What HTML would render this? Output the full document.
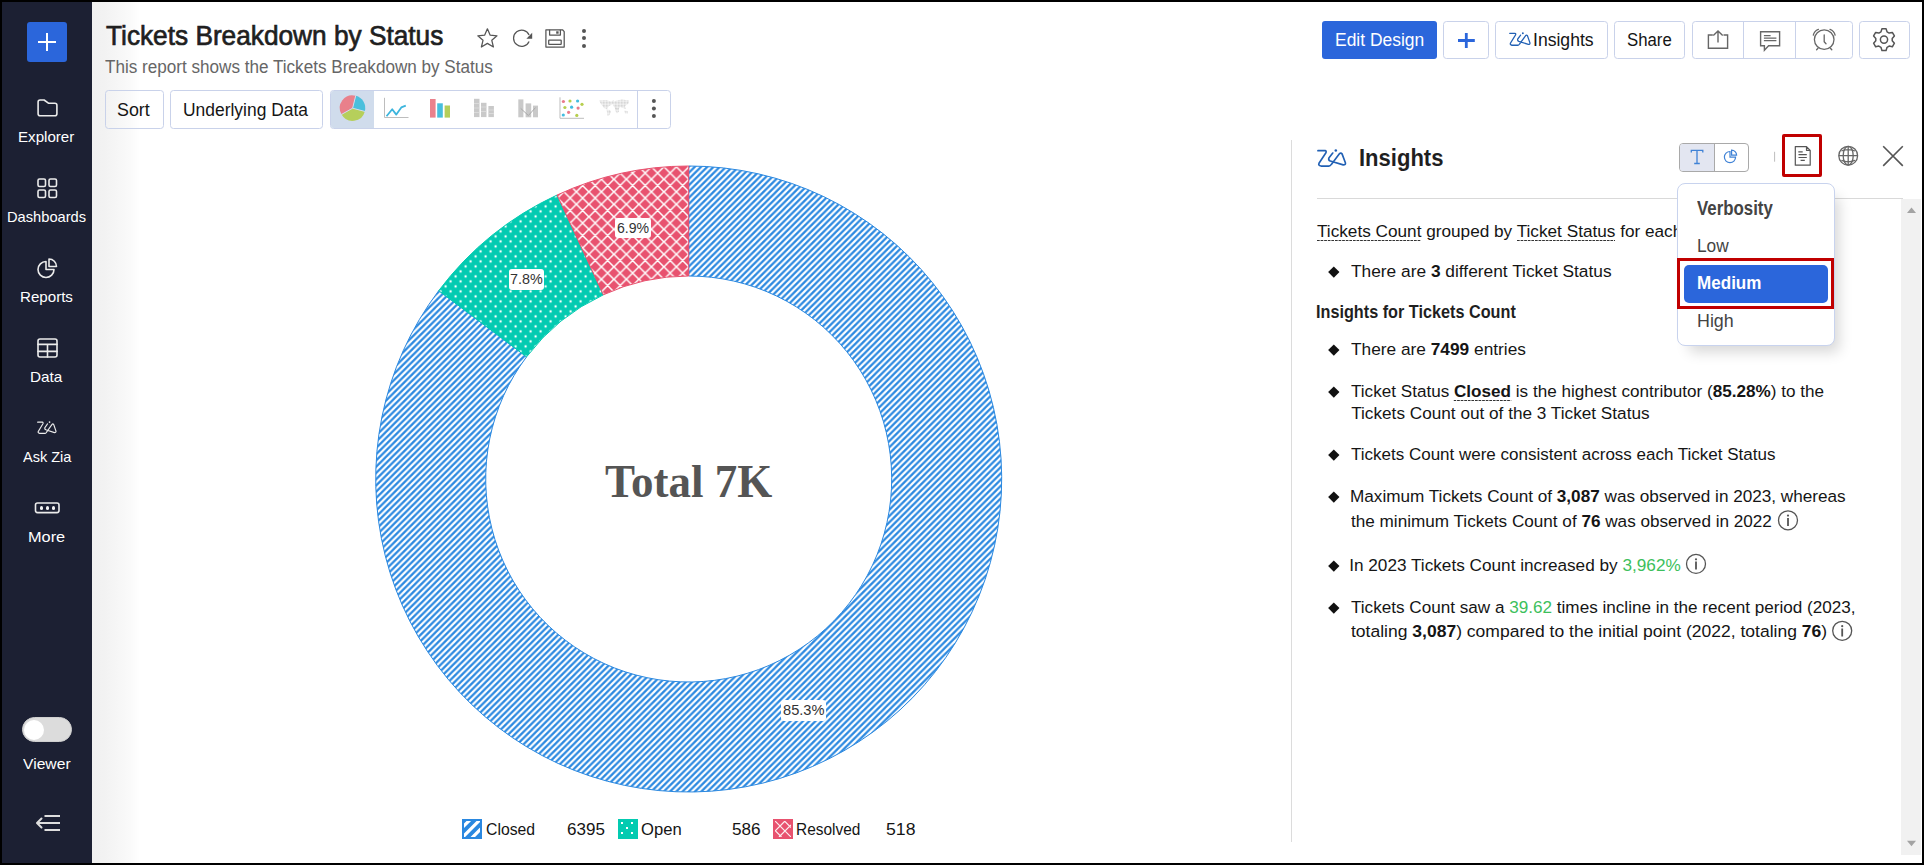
<!DOCTYPE html>
<html><head><meta charset="utf-8">
<style>
*{margin:0;padding:0;box-sizing:border-box}
html,body{width:1924px;height:865px;overflow:hidden;background:#000}
body{font-family:"Liberation Sans",sans-serif;position:relative;color:#222}
.a{position:absolute}
#bg{position:absolute;left:2px;top:2px;width:1920px;height:861px;background:#fff}
#side{position:absolute;left:2px;top:2px;width:90px;height:861px;background:#1c2033}
#grad{position:absolute;left:92px;top:2px;width:60px;height:861px;background:linear-gradient(90deg,#f1f1f1 0,#f2f2f2 12px,#f6f6f6 25px,#fafafa 38px,#fff 48px)}
.bx{position:absolute;border:1px solid #c9d2ea;border-radius:3.5px;background:transparent}
.tx{position:absolute;white-space:nowrap;transform-origin:0 0}
.tx b{font-weight:bold}
.du{background:linear-gradient(90deg,#333 68%,transparent 68%) repeat-x 0 100%/3.6px 1.2px;padding-bottom:0}
.g{color:#3dbf5c}
svg{position:absolute;overflow:visible}
</style></head><body>
<div id="bg"></div>
<div id="side"></div>
<div id="grad"></div>

<svg style="left:0;top:0;width:0;height:0"><defs><symbol id="zia" viewBox="2.2 3.6 31.6 18.8" preserveAspectRatio="none"><path d="M3.2 5.35 H10.7 Q12.4 5.5 11.6 7.5 L4.3 18.5 Q3.2 20.8 6.4 21.4 H14.7 Q16.2 21.4 17.3 19.7 L26 8.4 Q27.2 7.2 28.6 8.7 L32.1 17.9 Q32.7 20.2 29.8 20.2 L16.2 16.2 Q13.9 15.3 14.7 13 L18.8 7.8" fill="none" stroke="currentColor" stroke-width="1.75" stroke-linecap="round" stroke-linejoin="round"/><circle cx="22" cy="5.2" r="1.35" fill="currentColor"/></symbol></defs></svg>
<!-- ===== sidebar ===== -->
<div class="a" style="left:27px;top:22px;width:40px;height:40px;background:#2b66db;border-radius:3px"></div>
<div class="a" style="left:38px;top:41px;width:18px;height:2px;background:#fff"></div>
<div class="a" style="left:46px;top:33px;width:2px;height:18px;background:#fff"></div>
<svg style="left:0;top:0" width="92" height="865" fill="none" stroke="#ebebeb" stroke-width="1.6" stroke-linecap="round" stroke-linejoin="round">
  <!-- folder -->
  <path d="M38.1 102 a2 2 0 0 1 2-2 h4 l4.3 3.2 h6.5 a2 2 0 0 1 2 2 v8.5 a2 2 0 0 1 -2 2 h-14.8 a2 2 0 0 1 -2-2 z"/>
  <!-- dashboards -->
  <rect x="38" y="179" width="7.5" height="7.5" rx="1.5"/><rect x="49" y="179" width="7.5" height="7.5" rx="1.5"/>
  <rect x="38" y="190" width="7.5" height="7.5" rx="1.5"/><rect x="49" y="190" width="7.5" height="7.5" rx="1.5"/>
  <!-- reports pie -->
  <path d="M46 261.5 a8 8 0 1 0 8 8 h-8 z"/>
  <path d="M49 259 a7.5 7.5 0 0 1 7.5 7.5 h-7.5 z"/>
  <!-- data table -->
  <rect x="38" y="339" width="19" height="18" rx="2"/>
  <path d="M38 344.4 h19 M38 351.4 h19 M47.5 344.4 v12.6"/>
  <!-- ask zia -->
  <!-- more -->
  <rect x="35.5" y="503" width="23.5" height="9.6" rx="2"/>
</svg>
<div class="a" style="left:39.8px;top:506.4px;width:3.2px;height:3.2px;background:#f4f4f4;border-radius:50%"></div>
<div class="a" style="left:45.7px;top:506.4px;width:3.2px;height:3.2px;background:#f4f4f4;border-radius:50%"></div>
<div class="a" style="left:51.7px;top:506.4px;width:3.2px;height:3.2px;background:#f4f4f4;border-radius:50%"></div>
<svg style="left:37.2px;top:421.2px;color:#ebebeb" width="20" height="13.1"><use href="#zia" width="20" height="13.1"/></svg>
<!-- toggle -->
<div class="a" style="left:22px;top:717px;width:50px;height:25px;border-radius:13px;background:#dcdcdc;border:1px solid #cfcfcf"></div>
<div class="a" style="left:24px;top:719.5px;width:20px;height:20px;border-radius:50%;background:#fff"></div>
<!-- collapse -->
<svg style="left:0;top:0" width="92" height="865" fill="none" stroke="#dedede" stroke-width="2" stroke-linecap="butt">
  <path d="M44.5 816 H60 M37 823 H60 M44.5 830 H60"/>
  <path d="M41.5 818.5 L37 823 L41.5 827.5" stroke-linecap="round" stroke-linejoin="round"/>
</svg>

<!-- ===== header ===== -->
<svg style="left:0;top:0" width="700" height="60" fill="none" stroke="#555" stroke-width="1.25" stroke-linejoin="round">
  <!-- star -->
  <path d="M487.4 28.8 L490.2 35.2 L497 35.8 L491.8 40.3 L493.4 47 L487.4 43.4 L481.4 47 L483 40.3 L477.8 35.8 L484.6 35.2 Z"/>
  <!-- refresh -->
  <path d="M529.1 35 A8.1 8.1 0 1 0 529.1 41.4"/>
  <path d="M532.2 32.8 L532.2 38.7 L526.4 38.7 Z" fill="#555" stroke="none"/>
  <!-- save -->
  <path d="M545.9 29.8 H562.5 L564.2 31.6 V47 H545.9 Z"/>
  <path d="M549.6 29.8 V35.1 H560.4 V29.8"/>
  <rect x="548.7" y="40" width="12.5" height="4.4" rx="0.5"/>
  <rect x="556.2" y="31.3" width="2.4" height="2.4" fill="#555" stroke="none"/>
</svg>
<div class="a" style="left:582px;top:28.5px;width:4px;height:4px;border-radius:50%;background:#555"></div>
<div class="a" style="left:582px;top:36.3px;width:4px;height:4px;border-radius:50%;background:#555"></div>
<div class="a" style="left:582px;top:44px;width:4px;height:4px;border-radius:50%;background:#555"></div>

<!-- buttons row -->
<div class="bx" style="left:105px;top:90px;width:59px;height:39px"></div>
<div class="bx" style="left:170px;top:90px;width:153px;height:39px"></div>
<div class="bx" style="left:330px;top:90px;width:341px;height:39px;overflow:hidden">
  <div class="a" style="left:0;top:0;width:43px;height:37px;background:#d0dcec"></div>
  <div class="a" style="left:306px;top:0;width:1px;height:37px;background:#c9d2ea"></div>
</div>
<svg style="left:0;top:0" width="700" height="140">
  <!-- pie icon -->
  <path d="M352.6 108.2 L355.8 95.8 A12.6 12.6 0 0 1 364.8 111.4 Z" fill="#4bbfdc"/>
  <path d="M352.6 108.2 L364.8 111.4 A12.6 12.6 0 0 1 341.6 114.4 Z" fill="#b6cf5b"/>
  <path d="M352.6 108.2 L341.6 114.4 A12.6 12.6 0 0 1 355.8 95.8 Z" fill="#e9808b"/>
  <path d="M352.6 108.2 L355.8 95.3 M352.6 108.2 L365.2 111.5 M352.6 108.2 L341.2 114.6" stroke="#d0dcec" stroke-width="1"/>
  <!-- line icon -->
  <path d="M384.5 97.8 V117.5 H408.5" fill="none" stroke="#bdbdbd" stroke-width="1"/>
  <path d="M386.5 116.3 L392.2 109.3 L396.3 114.6 L401.3 107.4 L405.8 105.6" fill="none" stroke="#3cb5dd" stroke-width="1.8" stroke-linejoin="round"/>
  <!-- bar icon -->
  <rect x="430" y="99" width="5.6" height="18.6" fill="#ea818c"/>
  <rect x="437.2" y="103.3" width="5.6" height="14.3" fill="#47bedc"/>
  <rect x="444.6" y="105.5" width="5.4" height="12.1" fill="#b4ce5a"/>
  <!-- stacked gray -->
  <g fill="#c9c9c9">
    <rect x="474" y="98.8" width="5.5" height="18.3"/>
    <rect x="481" y="102.8" width="5.5" height="14.3"/>
    <rect x="488.4" y="106" width="5.5" height="11.1"/>
  </g>
  <g stroke="#dedede" stroke-width="0.8">
    <path d="M474 103.5 h5.5 M474 108 h5.5 M474 112.5 h5.5 M481 107 h5.5 M481 111.5 h5.5 M488.4 110 h5.5 M488.4 113.5 h5.5"/>
  </g>
  <!-- combo gray -->
  <g fill="#c9c9c9">
    <rect x="518.3" y="99.4" width="5.1" height="17.9"/>
    <rect x="525.6" y="103.4" width="5.6" height="13.9"/>
    <rect x="533" y="105.6" width="5" height="11.7"/>
  </g>
  <path d="M520.7 108.4 L528.4 115.5 L535.5 107.6" fill="none" stroke="#a9a9a9" stroke-width="1"/>
  <!-- scatter -->
  <path d="M560 97.3 V118.3 H584" fill="none" stroke="#bdbdbd" stroke-width="1"/>
  <g>
    <circle cx="563.4" cy="101.5" r="1.6" fill="#ea7a8a"/>
    <circle cx="570" cy="101" r="1.6" fill="#b7cf4e"/>
    <circle cx="577.6" cy="101" r="1.6" fill="#43bde0"/>
    <circle cx="582" cy="104.3" r="1.6" fill="#b7cf4e"/>
    <circle cx="564.9" cy="107.5" r="1.6" fill="#b7cf4e"/>
    <circle cx="571.6" cy="107.2" r="1.6" fill="#43bde0"/>
    <circle cx="578.1" cy="108.1" r="1.6" fill="#ea7a8a"/>
    <circle cx="568.6" cy="112.3" r="1.6" fill="#ea7a8a"/>
    <circle cx="563.3" cy="115" r="1.6" fill="#43bde0"/>
    <circle cx="576.8" cy="115.4" r="1.6" fill="#b7cf4e"/>
  </g>
  <!-- world -->
  <defs><pattern id="wd" patternUnits="userSpaceOnUse" width="1.5" height="1.5"><rect width="1.1" height="1.1" fill="#cfcfcf"/></pattern></defs>
  <g fill="url(#wd)">
    <path d="M599 100.5 L606 100 L611 101.5 L614 100 L613 104 L609 106 L607 109 L604 108 L601 104 Z"/>
    <path d="M606.5 109.5 L610 110 L611 112 L609 115.5 L607.5 116 L607 112 Z"/>
    <path d="M613.5 101.5 L617 100.5 L622 99.5 L629 100.5 L628.5 103.5 L625 106 L626 109 L623 108 L620 107 L618 110 L615.5 109 L613.5 106 L613 103.5 Z"/>
    <path d="M615 107.5 L618.5 108 L619 111.5 L617 113.5 L615.5 111 Z"/>
    <path d="M624.5 110.5 L627.5 111 L628 113.5 L625 113.5 Z"/>
  </g>
  <!-- more -->
  <circle cx="653.9" cy="100.9" r="2" fill="#555"/>
  <circle cx="653.9" cy="108.4" r="2" fill="#555"/>
  <circle cx="653.9" cy="115.9" r="2" fill="#555"/>
</svg>

<!-- header right -->
<div class="a" style="left:1322px;top:21px;width:115px;height:38px;background:#2b66db;border-radius:3px"></div>
<div class="bx" style="left:1443px;top:21px;width:46px;height:38px"></div>
<div class="bx" style="left:1495px;top:21px;width:113px;height:38px"></div>
<div class="bx" style="left:1614px;top:21px;width:71px;height:38px"></div>
<div class="bx" style="left:1692px;top:21px;width:161px;height:38px">
  <div class="a" style="left:50px;top:0;width:1px;height:36px;background:#c9d2ea"></div>
  <div class="a" style="left:102px;top:0;width:1px;height:36px;background:#c9d2ea"></div>
</div>
<div class="bx" style="left:1859px;top:21px;width:51px;height:38px"></div>
<svg style="left:0;top:0" width="1924" height="70" fill="none" stroke-linecap="round" stroke-linejoin="round">
  <path d="M1458 40.5 H1474.8 M1466.3 33 V48" stroke="#2b66db" stroke-width="2.8" stroke-linecap="butt"/>
  <!-- zia in button -->
  <!-- export -->
  <path d="M1712.8 35 H1708.4 V48.3 H1727.6 V35 H1723.5 M1718 31 V42.5 M1713.3 35.6 L1718 31 L1722.7 35.6" stroke="#666" stroke-width="1.4" stroke-linecap="butt" stroke-linejoin="miter"/>
  <!-- comment -->
  <path d="M1760.6 31.8 H1779.6 V45.8 H1768.6 L1764.4 50.2 V45.8 H1760.6 Z" stroke="#666" stroke-width="1.4" stroke-linejoin="miter"/>
  <path d="M1763.9 35.6 H1770.6 M1763.9 38.1 H1776.4 M1763.9 40.7 H1776.4" stroke="#666" stroke-width="1.2" stroke-linecap="butt"/>
  <!-- alarm -->
  <circle cx="1824.2" cy="39.6" r="9.8" stroke="#666" stroke-width="1.3"/>
  <path d="M1813.3 35.2 A8 8 0 0 1 1818.4 29.3 M1830 29.3 A8 8 0 0 1 1835.1 35.2 M1824.2 34.8 V41.8 L1826 43.8 M1818 48.2 L1816.6 49.8 M1830.4 48.2 L1831.8 49.8" stroke="#666" stroke-width="1.3"/>
  <!-- gear -->
  <g transform="translate(1884 39.6)" stroke="#555" stroke-width="1.5">
    <path d="M-3.06 -7.72 L-2.06 -10.81 L2.06 -10.81 L3.06 -7.72 L5.16 -6.50 L8.33 -7.19 L10.39 -3.62 L8.21 -1.21 L8.21 1.21 L10.39 3.62 L8.33 7.19 L5.16 6.50 L3.06 7.72 L2.06 10.81 L-2.06 10.81 L-3.06 7.72 L-5.16 6.50 L-8.33 7.19 L-10.39 3.62 L-8.21 1.21 L-8.21 -1.21 L-10.39 -3.62 L-8.33 -7.19 L-5.16 -6.50 Z"/>
    <circle r="3.6"/>
  </g>
</svg>

<svg style="left:1509px;top:31.9px;color:#2160b4" width="22.1" height="14"><use href="#zia" width="22.1" height="14"/></svg>
<!-- ===== donut chart ===== -->
<svg style="left:0;top:0" width="1924" height="865">
  <defs>
    <pattern id="pb" patternUnits="userSpaceOnUse" width="6.25" height="6.25" x="2.25" y="0">
      <rect width="6.25" height="6.25" fill="#2a88e0"/>
      <path d="M-2 2 L2 -2 M0 6.25 L6.25 0 M4.25 8.25 L8.25 4.25" stroke="#fff" stroke-width="2.2"/>
    </pattern>
    <pattern id="pg" patternUnits="userSpaceOnUse" width="10" height="10" x="0.6" y="1.4">
      <rect width="10" height="10" fill="#03cbb1"/>
      <circle cx="0" cy="0" r="1.2" fill="#fff"/><circle cx="10" cy="0" r="1.2" fill="#fff"/>
      <circle cx="0" cy="10" r="1.2" fill="#fff"/><circle cx="10" cy="10" r="1.2" fill="#fff"/>
      <circle cx="5" cy="5" r="1.2" fill="#fff"/>
    </pattern>
    <pattern id="pr" patternUnits="userSpaceOnUse" width="12.5" height="12.5" x="1.4" y="4.3">
      <rect width="12.5" height="12.5" fill="#e8526f"/>
      <path d="M0 0 L12.5 12.5 M12.5 0 L0 12.5 M-6.25 6.25 L0 12.5 M6.25 -6.25 L18.75 6.25 M-6.25 6.25 L6.25 -6.25 M6.25 18.75 L18.75 6.25" stroke="#fff" stroke-width="1.5"/>
    </pattern>
  </defs>
  <path id="segC" fill="url(#pb)" stroke="#2a88e0" stroke-width="1" d="M688.70 166.00 A313.0 313.0 0 1 1 438.73 290.63 L526.58 356.83 A203.0 203.0 0 1 0 688.70 276.00 Z"/>
  <path id="segO" fill="url(#pg)" stroke="#03cbb1" stroke-width="1" d="M438.73 290.63 A313.0 313.0 0 0 1 557.08 195.02 L603.33 294.82 A203.0 203.0 0 0 0 526.58 356.83 Z"/>
  <path id="segR" fill="url(#pr)" stroke="#e8526f" stroke-width="1" d="M557.08 195.02 A313.0 313.0 0 0 1 688.70 166.00 L688.70 276.00 A203.0 203.0 0 0 0 603.33 294.82 Z"/>
</svg>
<!-- data labels -->
<div class="a" style="left:615.3px;top:218.1px;width:35.5px;height:20.2px;background:#fff;border-radius:3px"></div>
<div class="a" style="left:509.2px;top:269.3px;width:35.3px;height:20.6px;background:#fff;border-radius:3px"></div>
<div class="a" style="left:781.3px;top:699.7px;width:44.9px;height:21.5px;background:#fff;border-radius:3px"></div>
<!-- legend swatches -->
<svg style="left:0;top:0" width="1000" height="865">
  <defs>
    <clipPath id="lc1"><rect x="464" y="821" width="16" height="16"/></clipPath>
    <clipPath id="lc3"><rect x="775" y="821" width="16" height="16"/></clipPath>
  </defs>
  <rect x="462" y="819" width="20" height="20" fill="#2a88e0"/>
  <path d="M460 829.8 L472 817.8 M460 839.8 L482 817.8 M468 841.8 L484 825.8" stroke="#fff" stroke-width="3.25" clip-path="url(#lc1)"/>
  <rect x="618" y="819" width="20" height="20" fill="#03cbb1"/>
  <g fill="#fff"><rect x="621" y="822" width="2" height="2"/><rect x="631" y="822" width="2" height="2"/><rect x="626" y="827" width="2" height="2"/><rect x="621" y="832" width="2" height="2"/><rect x="631" y="832" width="2" height="2"/></g>
  <rect x="773" y="819" width="20" height="20" fill="#e8526f"/>
  <path d="M775 821 L791 837 M784.5 821 L791 827.5 M775 830.5 L781.5 837 M775 831 L785 821 M779 837 L791 825" stroke="#fff" stroke-width="1.2" opacity="0.9" clip-path="url(#lc3)"/>
</svg>

<!-- ===== insights panel ===== -->
<div class="a" style="left:1291px;top:140px;width:1px;height:702px;background:#dcdcdc"></div>
<div class="a" style="left:1317px;top:198px;width:586px;height:1px;background:#d9d9d9"></div>
<div class="a" style="left:1901.3px;top:199px;width:19.7px;height:656px;background:#f1f1f1"></div>
<svg style="left:0;top:0" width="1924" height="865">
  <path d="M1911.5 207.6 L1916 213 H1907 Z" fill="#a3a3a3"/>
  <path d="M1911.5 846.2 L1916 840.8 H1907 Z" fill="#a3a3a3"/>
  <!-- zia logo -->
</svg>
<svg style="left:1317px;top:149px;color:#2160b4" width="30" height="18"><use href="#zia" width="30" height="18"/></svg>
<!-- T / pie toggle -->
<div class="a" style="left:1679.2px;top:143.2px;width:69.6px;height:29.3px;border:1px solid #a9a9a9;border-radius:4px;overflow:hidden;background:#fff">
  <div class="a" style="left:0;top:0;width:34px;height:28px;background:#e3e6f1"></div>
  <div class="a" style="left:34px;top:0;width:1px;height:28px;background:#a9a9a9"></div>
</div>
<svg style="left:0;top:0" width="1924" height="865" fill="none">
  <!-- T -->
  <path d="M1691.3 152.4 V150.3 H1702.8 V152.4 M1697 150.3 V163.5 M1694.2 163.5 H1699.8" stroke="#3f82d6" stroke-width="1.3"/>
  <!-- small pie -->
  <path d="M1730 151.5 A5.6 5.6 0 1 0 1735.6 157.1 H1730 Z" stroke="#3f82d6" stroke-width="1.2"/>
  <path d="M1731.6 150.1 A5 5 0 0 1 1736.6 155.1 H1731.6 Z" stroke="#3f82d6" stroke-width="1.2"/>
  <!-- divider -->
  <path d="M1774.6 151.8 V161.7" stroke="#bdbdbd" stroke-width="1"/>
  <!-- doc icon -->
  <path d="M1795.3 146.6 H1806.5 L1810.2 150.3 V165.2 H1795.3 Z M1806.5 146.6 V150.3 H1810.2" stroke="#555" stroke-width="1.2" stroke-linejoin="round"/>
  <path d="M1798.3 151.9 H1802.7 M1798.5 154.6 H1806.8 M1798.5 157.5 H1806.8 M1800.6 160.4 H1804.8" stroke="#555" stroke-width="1.1"/>
  <!-- globe -->
  <g stroke="#666" stroke-width="1.3">
    <circle cx="1848.2" cy="155.7" r="9.4"/>
    <ellipse cx="1848.2" cy="155.7" rx="5" ry="9.4"/>
    <path d="M1848.2 146.3 V165.1 M1838.8 155.7 H1857.6 M1841.4 151 Q1848.2 148.2 1855 151 M1841.4 160.4 Q1848.2 163.2 1855 160.4"/>
  </g>
  <!-- X -->
  <path d="M1883.2 146.3 L1902.8 165.9 M1902.8 146.3 L1883.2 165.9" stroke="#555" stroke-width="1.6"/>
  <!-- info icons -->
  <g stroke="#555" stroke-width="1.3">
    <circle cx="1788" cy="520.3" r="9.5"/>
    <circle cx="1696" cy="563.9" r="9.5"/>
    <circle cx="1842.2" cy="630.8" r="9.5"/>
  </g>
  <g stroke="#555" stroke-width="1.8">
    <path d="M1788 518 V525.9 M1696 561.6 V569.5 M1842.2 628.5 V636.4"/>
  </g>
  <g fill="#555">
    <circle cx="1788" cy="515.6" r="1.1"/><circle cx="1696" cy="559.3" r="1.1"/><circle cx="1842.2" cy="626.2" r="1.1"/>
  </g>
</svg>
<!-- red highlight box (doc icon) -->
<div class="a" style="left:1782.4px;top:134.4px;width:40px;height:42.4px;border:3px solid #c00000;border-radius:2px"></div>
<!-- bullets -->
<div class="a" style="left:1329.5px;top:268.1px;width:7.6px;height:7.6px;background:#111;transform:rotate(45deg)"></div>
<div class="a" style="left:1329.5px;top:345.9px;width:7.6px;height:7.6px;background:#111;transform:rotate(45deg)"></div>
<div class="a" style="left:1329.5px;top:387.7px;width:7.6px;height:7.6px;background:#111;transform:rotate(45deg)"></div>
<div class="a" style="left:1329.5px;top:450.8px;width:7.6px;height:7.6px;background:#111;transform:rotate(45deg)"></div>
<div class="a" style="left:1329.5px;top:493.0px;width:7.6px;height:7.6px;background:#111;transform:rotate(45deg)"></div>
<div class="a" style="left:1329.5px;top:561.7px;width:7.6px;height:7.6px;background:#111;transform:rotate(45deg)"></div>
<div class="a" style="left:1329.5px;top:603.6px;width:7.6px;height:7.6px;background:#111;transform:rotate(45deg)"></div>

<div class="tx" style="left:18.29px;top:129.30px;color:#ffffff;font-size:15px;line-height:15px;font-weight:normal;font-family:'Liberation Sans',sans-serif;transform:scaleX(1.0073);">Explorer</div>
<div class="tx" style="left:6.92px;top:209.30px;color:#ffffff;font-size:15px;line-height:15px;font-weight:normal;font-family:'Liberation Sans',sans-serif;transform:scaleX(0.9775);">Dashboards</div>
<div class="tx" style="left:20.29px;top:289.30px;color:#ffffff;font-size:15px;line-height:15px;font-weight:normal;font-family:'Liberation Sans',sans-serif;transform:scaleX(1.0078);">Reports</div>
<div class="tx" style="left:30.18px;top:369.30px;color:#ffffff;font-size:15px;line-height:15px;font-weight:normal;font-family:'Liberation Sans',sans-serif;transform:scaleX(1.0194);">Data</div>
<div class="tx" style="left:22.80px;top:449.30px;color:#ffffff;font-size:15px;line-height:15px;font-weight:normal;font-family:'Liberation Sans',sans-serif;transform:scaleX(0.9680);">Ask Zia</div>
<div class="tx" style="left:27.96px;top:529.30px;color:#ffffff;font-size:15px;line-height:15px;font-weight:normal;font-family:'Liberation Sans',sans-serif;transform:scaleX(1.0879);">More</div>
<div class="tx" style="left:23.00px;top:756.10px;color:#ffffff;font-size:15px;line-height:15px;font-weight:normal;font-family:'Liberation Sans',sans-serif;transform:scaleX(1.0444);">Viewer</div>
<div class="tx" style="left:106.00px;top:21.72px;color:#1f1f1f;font-size:27.5px;line-height:27.5px;font-weight:normal;font-family:'Liberation Sans',sans-serif;-webkit-text-stroke:0.7px #1f1f1f;transform:scaleX(0.9538);">Tickets Breakdown by Status</div>
<div class="tx" style="left:105.00px;top:59.29px;color:#666666;font-size:17.5px;line-height:17.5px;font-weight:normal;font-family:'Liberation Sans',sans-serif;transform:scaleX(0.9773);">This report shows the Tickets Breakdown by Status</div>
<div class="tx" style="left:117.38px;top:101.79px;color:#151515;font-size:17.5px;line-height:17.5px;font-weight:normal;font-family:'Liberation Sans',sans-serif;transform:scaleX(1.0194);">Sort</div>
<div class="tx" style="left:183.40px;top:101.79px;color:#151515;font-size:17.5px;line-height:17.5px;font-weight:normal;font-family:'Liberation Sans',sans-serif;transform:scaleX(0.9960);">Underlying Data</div>
<div class="tx" style="left:1335.20px;top:31.79px;color:#ffffff;font-size:17.5px;line-height:17.5px;font-weight:normal;font-family:'Liberation Sans',sans-serif;transform:scaleX(0.9966);">Edit Design</div>
<div class="tx" style="left:1533.19px;top:31.79px;color:#151515;font-size:17.5px;line-height:17.5px;font-weight:normal;font-family:'Liberation Sans',sans-serif;transform:scaleX(1.0052);">Insights</div>
<div class="tx" style="left:1627.24px;top:31.89px;color:#151515;font-size:17.5px;line-height:17.5px;font-weight:normal;font-family:'Liberation Sans',sans-serif;transform:scaleX(0.9578);">Share</div>
<div class="tx" style="left:605.32px;top:458.98px;color:#555555;font-size:46px;line-height:46px;font-weight:bold;font-family:'Liberation Serif',serif;transform:scaleX(0.9788);">Total 7K</div>
<div class="tx" style="left:616.59px;top:220.55px;color:#333;font-size:14px;line-height:14px;font-weight:normal;font-family:'Liberation Sans',sans-serif;transform:scaleX(1.0065);">6.9%</div>
<div class="tx" style="left:509.87px;top:272.05px;color:#333;font-size:14px;line-height:14px;font-weight:normal;font-family:'Liberation Sans',sans-serif;transform:scaleX(1.0258);">7.8%</div>
<div class="tx" style="left:782.86px;top:703.15px;color:#333;font-size:14px;line-height:14px;font-weight:normal;font-family:'Liberation Sans',sans-serif;transform:scaleX(1.0447);">85.3%</div>
<div class="tx" style="left:485.71px;top:821.96px;color:#151515;font-size:16px;line-height:16px;font-weight:normal;font-family:'Liberation Sans',sans-serif;transform:scaleX(0.9854);">Closed</div>
<div class="tx" style="left:566.74px;top:821.96px;color:#151515;font-size:16px;line-height:16px;font-weight:normal;font-family:'Liberation Sans',sans-serif;transform:scaleX(1.0647);">6395</div>
<div class="tx" style="left:640.56px;top:821.96px;color:#151515;font-size:16px;line-height:16px;font-weight:normal;font-family:'Liberation Sans',sans-serif;transform:scaleX(1.0378);">Open</div>
<div class="tx" style="left:731.63px;top:821.96px;color:#151515;font-size:16px;line-height:16px;font-weight:normal;font-family:'Liberation Sans',sans-serif;transform:scaleX(1.0680);">586</div>
<div class="tx" style="left:796.34px;top:821.96px;color:#151515;font-size:16px;line-height:16px;font-weight:normal;font-family:'Liberation Sans',sans-serif;transform:scaleX(0.9646);">Resolved</div>
<div class="tx" style="left:885.90px;top:821.96px;color:#151515;font-size:16px;line-height:16px;font-weight:normal;font-family:'Liberation Sans',sans-serif;transform:scaleX(1.1040);">518</div>
<div class="tx" style="left:1358.71px;top:146.28px;color:#1f1f1f;font-size:24.6px;line-height:24.6px;font-weight:bold;font-family:'Liberation Sans',sans-serif;transform:scaleX(0.8956);">Insights</div>
<div class="tx" style="left:1317.00px;top:223.24px;color:#151515;font-size:17.2px;line-height:17.2px;font-weight:normal;font-family:'Liberation Sans',sans-serif;"><span class="du">Tickets Count</span> grouped by <span class="du">Ticket Status</span> for each year</div>
<div class="tx" style="left:1351.20px;top:263.34px;color:#151515;font-size:17.2px;line-height:17.2px;font-weight:normal;font-family:'Liberation Sans',sans-serif;transform:scaleX(1.0078);">There are <b>3</b> different Ticket Status</div>
<div class="tx" style="left:1316.11px;top:302.59px;color:#1f1f1f;font-size:18.2px;line-height:18.2px;font-weight:bold;font-family:'Liberation Sans',sans-serif;transform:scaleX(0.8919);">Insights for Tickets Count</div>
<div class="tx" style="left:1351.20px;top:341.14px;color:#151515;font-size:17.2px;line-height:17.2px;font-weight:normal;font-family:'Liberation Sans',sans-serif;transform:scaleX(1.0058);">There are <b>7499</b> entries</div>
<div class="tx" style="left:1351.20px;top:382.94px;color:#151515;font-size:17.2px;line-height:17.2px;font-weight:normal;font-family:'Liberation Sans',sans-serif;transform:scaleX(0.9954);">Ticket Status <b class="du">Closed</b> is the highest contributor (<b>85.28%</b>) to the</div>
<div class="tx" style="left:1351.20px;top:405.24px;color:#151515;font-size:17.2px;line-height:17.2px;font-weight:normal;font-family:'Liberation Sans',sans-serif;">Tickets Count out of the 3 Ticket Status</div>
<div class="tx" style="left:1351.20px;top:446.04px;color:#151515;font-size:17.2px;line-height:17.2px;font-weight:normal;font-family:'Liberation Sans',sans-serif;transform:scaleX(0.9888);">Tickets Count were consistent across each Ticket Status</div>
<div class="tx" style="left:1350.20px;top:488.24px;color:#151515;font-size:17.2px;line-height:17.2px;font-weight:normal;font-family:'Liberation Sans',sans-serif;transform:scaleX(0.9978);">Maximum Tickets Count of <b>3,087</b> was observed in 2023, whereas</div>
<div class="tx" style="left:1351.20px;top:513.04px;color:#151515;font-size:17.2px;line-height:17.2px;font-weight:normal;font-family:'Liberation Sans',sans-serif;transform:scaleX(0.9967);">the minimum Tickets Count of <b>76</b> was observed in 2022</div>
<div class="tx" style="left:1349.20px;top:556.94px;color:#151515;font-size:17.2px;line-height:17.2px;font-weight:normal;font-family:'Liberation Sans',sans-serif;">In 2023 Tickets Count increased by <span class="g">3,962%</span></div>
<div class="tx" style="left:1351.20px;top:598.84px;color:#151515;font-size:17.2px;line-height:17.2px;font-weight:normal;font-family:'Liberation Sans',sans-serif;transform:scaleX(0.9958);">Tickets Count saw a <span class="g">39.62</span> times incline in the recent period (2023,</div>
<div class="tx" style="left:1351.20px;top:623.44px;color:#151515;font-size:17.2px;line-height:17.2px;font-weight:normal;font-family:'Liberation Sans',sans-serif;transform:scaleX(1.0189);">totaling <b>3,087</b>) compared to the initial point (2022, totaling <b>76</b>)</div>

<!-- ===== dropdown (on top) ===== -->
<div id="dd" class="a" style="left:1677.3px;top:183.1px;width:157.5px;height:163.4px;background:#fff;border:1px solid #c8d3ee;border-radius:8px;box-shadow:8px 10px 14px -4px rgba(0,0,0,0.16)"></div>
<div class="a" style="left:1684.1px;top:264.9px;width:144px;height:37.9px;background:#2b66db;border-radius:5px"></div>
<div class="a" style="left:1677.4px;top:258.2px;width:157px;height:50.8px;border:3px solid #c00000"></div>
<div class="tx" style="left:1697.00px;top:199.49px;color:#444;font-size:19.5px;line-height:19.5px;font-weight:bold;font-family:'Liberation Sans',sans-serif;transform:scaleX(0.8636);">Verbosity</div>
<div class="tx" style="left:1696.71px;top:237.99px;color:#444;font-size:17.5px;line-height:17.5px;font-weight:normal;font-family:'Liberation Sans',sans-serif;transform:scaleX(0.9871);">Low</div>
<div class="tx" style="left:1696.73px;top:275.39px;color:#ffffff;font-size:17.5px;line-height:17.5px;font-weight:bold;font-family:'Liberation Sans',sans-serif;transform:scaleX(0.9750);">Medium</div>
<div class="tx" style="left:1696.68px;top:312.89px;color:#444;font-size:17.5px;line-height:17.5px;font-weight:normal;font-family:'Liberation Sans',sans-serif;transform:scaleX(1.0206);">High</div>
</body></html>
